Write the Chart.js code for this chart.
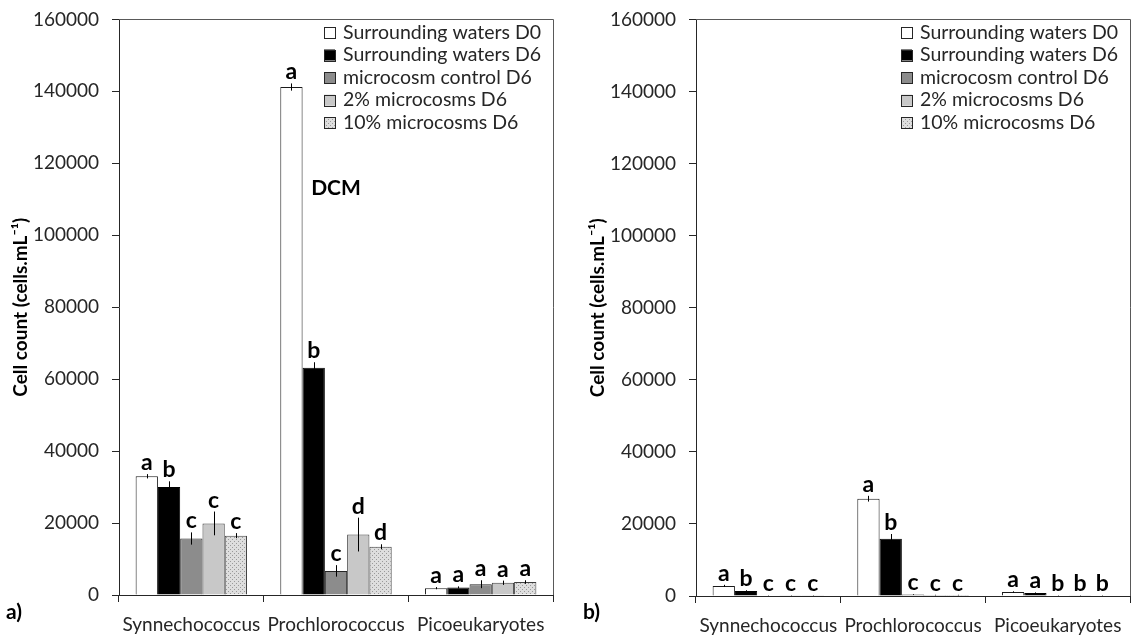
<!DOCTYPE html>
<html>
<head>
<meta charset="utf-8">
<script src="https://cdn.jsdelivr.net/npm/chart.js@4.4.0/dist/chart.umd.min.js"></script>
<style>
  html, body { margin: 0; padding: 0; background: #fff; overflow: hidden; }
  #wrap { position: relative; width: 1136px; height: 639px; overflow: hidden; }
  #panelA { position: absolute; left: 0; top: -5px; }
  #panelB { position: absolute; left: 577px; top: -5px; }
</style>
</head>
<body>
<div id="wrap">
  <canvas id="panelA" width="568" height="644"></canvas>
  <canvas id="panelB" width="559" height="644"></canvas>
</div>
<script>
const categories = ['Synnechococcus', 'Prochlorococcus', 'Picoeukaryotes'];
const seriesNames = ['Surrounding waters D0', 'Surrounding waters D6', 'microcosm control D6', '2% microcosms D6', '10% microcosms D6'];
const yMin = 0, yMax = 160000, yStep = 20000;
const yTitle = 'Cell count (cells.mL\u207B\u00B9)';

// panel a) values (cells/mL)
const aD0 = [33000, 141200, 1900];
const aD6 = [30000, 63200, 2100];
const aControl = [15700, 6700, 3000];
const a2pct = [19900, 16800, 3400];
const a10pct = [16500, 13400, 3600];
// panel a) error (+/-)
const aD0Err = [600, 1000, 300];
const aD6Err = [1600, 1500, 300];
const aControlErr = [1700, 1600, 1100];
const a2pctErr = [3300, 4700, 600];
const a10pctErr = [700, 700, 500];
// panel a) significance letters
const aD0Sig = ['a', 'a', 'a'];
const aD6Sig = ['b', 'b', 'a'];
const aControlSig = ['c', 'c', 'a'];
const a2pctSig = ['c', 'd', 'a'];
const a10pctSig = ['c', 'd', 'a'];

// panel b) values
const bD0 = [2800, 27000, 1100];
const bD6 = [1400, 15900, 800];
const bControl = [150, 400, 150];
const b2pct = [100, 250, 100];
const b10pct = [100, 250, 150];
const bD0Err = [300, 800, 200];
const bD6Err = [200, 1300, 200];
const bControlErr = [50, 100, 50];
const b2pctErr = [50, 80, 50];
const b10pctErr = [50, 80, 50];
const bD0Sig = ['a', 'a', 'a'];
const bD6Sig = ['b', 'b', 'a'];
const bControlSig = ['c', 'c', 'b'];
const b2pctSig = ['c', 'c', 'b'];
const b10pctSig = ['c', 'c', 'b'];

Chart.defaults.font.family = 'Lato, "Open Sans", sans-serif';
Chart.defaults.color = '#262626';

function dots() {
    const c = document.createElement('canvas');
    c.width = 4; c.height = 4;
    const g = c.getContext('2d');
    g.fillStyle = '#dedede';
    g.fillRect(0, 0, 4, 4);
    g.fillStyle = '#9a9a9a';
    g.fillRect(0, 0, 1, 1);
    g.fillRect(2, 2, 1, 1);
    return g.createPattern(c, 'repeat');
}

const fills = ['#ffffff', '#000000', '#8c8c8c', '#c8c8c8', dots()];
const edges = ['#1a1a1a', '#000000', '#262626', '#404040', '#404040'];

// error bars, letters, box, legend, notes
const extras = {
    id: 'extras',
    afterDatasetsDraw(chart, args, opts) {
        const ctx = chart.ctx;
        const ys = chart.scales.y;
        const xs = chart.scales.x;
        const area = chart.chartArea;
        ctx.save();

        chart.data.datasets.forEach((ds, i) => {
            chart.getDatasetMeta(i).data.forEach((bar, j) => {
                const v = ds.data[j], e = ds.errors[j];
                const top = ys.getPixelForValue(v + e);
                const bot = ys.getPixelForValue(Math.max(0, v - e));
                ctx.strokeStyle = '#000';
                ctx.lineWidth = 1;
                ctx.beginPath();
                ctx.moveTo(Math.round(bar.x) + 0.5, top);
                ctx.lineTo(Math.round(bar.x) + 0.5, bot);
                ctx.stroke();

                ctx.fillStyle = '#000';
                ctx.font = 'bold 23px Lato';
                ctx.textAlign = 'center';
                ctx.textBaseline = 'alphabetic';
                ctx.fillText(ds.letters[j], bar.x, top - 4);
            });
        });

        // top and right frame
        ctx.strokeStyle = '#595959';
        ctx.lineWidth = 1;
        ctx.beginPath();
        ctx.moveTo(area.left, Math.round(area.top) + 0.5);
        ctx.lineTo(Math.round(area.right) + 0.5, Math.round(area.top) + 0.5);
        ctx.lineTo(Math.round(area.right) + 0.5, area.bottom);
        ctx.stroke();

        // legend inside plot
        ctx.font = '19.5px Lato';
        ctx.textAlign = 'left';
        ctx.textBaseline = 'middle';
        chart.data.datasets.forEach((ds, i) => {
            const cy = area.top + 13 + i * 22.6;
            const mx = area.right - 229;
            ctx.fillStyle = ds.backgroundColor;
            ctx.fillRect(mx, cy - 5.5, 11, 11);
            ctx.strokeStyle = '#262626';
            ctx.strokeRect(mx + 0.5, Math.round(cy - 5.5) + 0.5, 11, 11);
            ctx.fillStyle = '#262626';
            ctx.fillText(ds.label, mx + 19, cy);
        });

        // text notes tied to a category and value
        (opts.notes || []).forEach(n => {
            ctx.font = 'bold 21px Lato';
            ctx.fillStyle = '#000';
            ctx.textAlign = 'center';
            ctx.textBaseline = 'middle';
            ctx.fillText(n.text, xs.getPixelForValue(n.cat), ys.getPixelForValue(n.value));
        });

        // panel tag
        ctx.font = 'bold 21px Lato';
        ctx.fillStyle = '#000';
        ctx.textAlign = 'left';
        ctx.textBaseline = 'alphabetic';
        ctx.fillText(opts.tag, 6, 624);
        ctx.restore();
    }
};

function buildPanel(id, values, errors, letters, tag, notes, rightPad, xHeight) {
    const datasets = seriesNames.map((name, i) => ({
        label: name,
        data: values[i],
        errors: errors[i],
        letters: letters[i],
        backgroundColor: fills[i],
        borderColor: edges[i],
        borderWidth: 1,
        categoryPercentage: 0.77,
        barPercentage: 1.0
    }));

    new Chart(document.getElementById(id).getContext('2d'), {
        type: 'bar',
        data: { labels: categories, datasets: datasets },
        plugins: [extras],
        options: {
            responsive: false,
            animation: false,
            layout: { padding: { top: 14, right: rightPad, bottom: 0, left: 0 } },
            plugins: {
                legend: { display: false },
                tooltip: { enabled: false },
                extras: { tag: tag, notes: notes }
            },
            scales: {
                x: {
                    grid: { drawOnChartArea: false, offset: true, tickLength: 7, color: '#262626' },
                    border: { color: '#262626' },
                    ticks: { autoSkip: false, maxRotation: 0, padding: 11, color: '#262626', font: { size: 19 } },
                    afterFit: s => { s.height = xHeight; }
                },
                y: {
                    min: yMin,
                    max: yMax,
                    grid: { drawOnChartArea: false, tickLength: 7, color: '#262626' },
                    border: { color: '#262626' },
                    ticks: {
                        stepSize: yStep,
                        padding: 13,
                        color: '#262626',
                        font: { size: 19 },
                        callback: v => String(v)
                    },
                    title: {
                        display: true,
                        text: yTitle,
                        color: '#000',
                        font: { size: 19, weight: 'bold' },
                        padding: { top: 9, bottom: 0 }
                    },
                    afterFit: s => { s.width = 119; }
                }
            }
        }
    });
}

buildPanel('panelA',
    [aD0, aD6, aControl, a2pct, a10pct],
    [aD0Err, aD6Err, aControlErr, a2pctErr, a10pctErr],
    [aD0Sig, aD6Sig, aControlSig, a2pctSig, a10pctSig],
    'a)', [{ text: 'DCM', cat: 1, value: 113000 }], 15, 44);

buildPanel('panelB',
    [bD0, bD6, bControl, b2pct, b10pct],
    [bD0Err, bD6Err, bControlErr, b2pctErr, b10pctErr],
    [bD0Sig, bD6Sig, bControlSig, b2pctSig, b10pctSig],
    'b)', [], 6, 43);
</script>
</body>
</html>
